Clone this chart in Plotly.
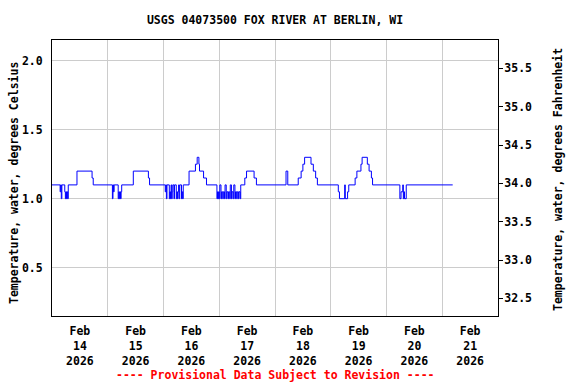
import plotly.graph_objects as go

# ---- data ----
times = [
    "2026-02-14 00:00", "2026-02-14 03:30", "2026-02-14 03:45", "2026-02-14 04:00", "2026-02-14 04:15",
    "2026-02-14 05:30", "2026-02-14 05:45", "2026-02-14 06:00", "2026-02-14 06:15", "2026-02-14 06:30",
    "2026-02-14 06:45", "2026-02-14 07:00", "2026-02-14 10:45", "2026-02-14 17:15", "2026-02-14 17:45",
    "2026-02-15 02:00", "2026-02-15 02:15", "2026-02-15 02:30", "2026-02-15 02:45",
    "2026-02-15 04:30", "2026-02-15 04:45", "2026-02-15 05:00", "2026-02-15 05:15", "2026-02-15 05:30",
    "2026-02-15 05:45", "2026-02-15 06:00", "2026-02-15 11:00", "2026-02-15 17:30", "2026-02-15 18:00",
    "2026-02-16 00:45", "2026-02-16 01:00", "2026-02-16 01:15", "2026-02-16 01:30", "2026-02-16 02:30",
    "2026-02-16 02:45", "2026-02-16 03:00", "2026-02-16 03:15", "2026-02-16 03:30", "2026-02-16 03:45",
    "2026-02-16 04:00", "2026-02-16 04:30", "2026-02-16 04:45", "2026-02-16 05:30", "2026-02-16 05:45",
    "2026-02-16 06:00", "2026-02-16 06:15", "2026-02-16 06:30", "2026-02-16 06:45", "2026-02-16 07:00",
    "2026-02-16 07:45", "2026-02-16 08:00", "2026-02-16 08:15", "2026-02-16 08:30",
    "2026-02-16 11:00", "2026-02-16 13:45", "2026-02-16 14:30", "2026-02-16 15:15", "2026-02-16 15:30",
    "2026-02-16 17:15", "2026-02-16 18:30",
    "2026-02-16 23:00", "2026-02-16 23:15", "2026-02-16 23:30", "2026-02-16 23:45",
    "2026-02-17 00:00", "2026-02-17 00:15", "2026-02-17 00:45", "2026-02-17 01:00", "2026-02-17 01:30",
    "2026-02-17 01:45", "2026-02-17 02:15", "2026-02-17 02:30", "2026-02-17 03:00", "2026-02-17 03:15",
    "2026-02-17 03:45", "2026-02-17 04:00", "2026-02-17 04:30", "2026-02-17 04:45", "2026-02-17 05:15",
    "2026-02-17 05:30", "2026-02-17 06:00", "2026-02-17 06:15", "2026-02-17 06:45", "2026-02-17 07:00",
    "2026-02-17 07:30", "2026-02-17 07:45", "2026-02-17 08:15", "2026-02-17 08:30", "2026-02-17 09:00",
    "2026-02-17 09:15",
    "2026-02-17 11:00", "2026-02-17 11:45", "2026-02-17 15:00", "2026-02-17 16:00",
    "2026-02-18 04:45", "2026-02-18 05:30",
    "2026-02-18 10:00", "2026-02-18 11:15", "2026-02-18 12:00", "2026-02-18 12:45", "2026-02-18 15:30",
    "2026-02-18 16:30", "2026-02-18 17:30", "2026-02-18 18:15",
    "2026-02-19 03:15", "2026-02-19 03:45", "2026-02-19 06:00", "2026-02-19 06:15", "2026-02-19 07:15",
    "2026-02-19 07:45", "2026-02-19 10:30", "2026-02-19 11:15", "2026-02-19 13:00", "2026-02-19 13:30",
    "2026-02-19 15:45", "2026-02-19 16:30", "2026-02-19 17:30", "2026-02-19 18:00",
    "2026-02-20 05:45", "2026-02-20 06:15", "2026-02-20 07:00", "2026-02-20 07:15", "2026-02-20 07:30",
    "2026-02-20 07:45", "2026-02-20 08:30",
    "2026-02-21 04:30",
]
temps_c = [
    1.1, 1.05, 1.1, 1.0, 1.1,
    1.05, 1.0, 1.05, 1.0, 1.05,
    1.0, 1.1, 1.2, 1.15, 1.1,
    1.0, 1.1, 1.05, 1.1,
    1.0, 1.05, 1.0, 1.05, 1.0,
    1.05, 1.1, 1.2, 1.15, 1.1,
    1.05, 1.1, 1.0, 1.1, 1.0,
    1.05, 1.0, 1.1, 1.0, 1.05,
    1.1, 1.0, 1.1, 1.0, 1.05,
    1.0, 1.05, 1.1, 1.0, 1.1,
    1.0, 1.05, 1.0, 1.1,
    1.2, 1.25, 1.3, 1.25, 1.2,
    1.15, 1.1,
    1.0, 1.05, 1.0, 1.05,
    1.0, 1.1, 1.0, 1.05, 1.0,
    1.05, 1.0, 1.1, 1.0, 1.05,
    1.0, 1.05, 1.0, 1.1, 1.0,
    1.05, 1.0, 1.1, 1.0, 1.05,
    1.0, 1.05, 1.0, 1.05, 1.0,
    1.1,
    1.15, 1.2, 1.15, 1.1,
    1.2, 1.1,
    1.15, 1.2, 1.25, 1.3, 1.25,
    1.2, 1.15, 1.1,
    1.05, 1.0, 1.1, 1.0, 1.05,
    1.1, 1.15, 1.2, 1.25, 1.3,
    1.25, 1.2, 1.15, 1.1,
    1.0, 1.05, 1.1, 1.0, 1.05,
    1.0, 1.1,
    1.1,
]
temps_f = [round(c * 1.8 + 32, 3) for c in temps_c]

day_ticks = ["2026-02-14 12:00", "2026-02-15 12:00", "2026-02-16 12:00", "2026-02-17 12:00",
             "2026-02-18 12:00", "2026-02-19 12:00", "2026-02-20 12:00", "2026-02-21 12:00"]
day_labels = ["Feb<br>14<br>2026", "Feb<br>15<br>2026", "Feb<br>16<br>2026", "Feb<br>17<br>2026",
              "Feb<br>18<br>2026", "Feb<br>19<br>2026", "Feb<br>20<br>2026", "Feb<br>21<br>2026"]
x_range = ["2026-02-14 00:00", "2026-02-22 00:00"]
c_ticks = [0.5, 1.0, 1.5, 2.0]
f_ticks = [32.5, 33.0, 33.5, 34.0, 34.5, 35.0, 35.5]
c_range = [0.15, 2.15]
f_range = [c * 1.8 + 32 for c in c_range]

FONT = "DejaVu Sans Mono"
fnt = dict(family=FONT, size=11.5, color="black", weight="bold")

fig = go.Figure()
fig.add_trace(go.Scatter(x=times, y=temps_c, mode="lines", yaxis="y",
                         line=dict(color="#0000ff", width=1, shape="hv"),
                         showlegend=False))
fig.add_trace(go.Scatter(x=times, y=temps_f, mode="lines", yaxis="y2",
                         line=dict(color="rgba(0,0,0,0)", width=0, shape="hv"),
                         showlegend=False, hoverinfo="skip"))

fig.update_layout(
    width=576, height=384,
    margin=dict(l=52, r=78, t=40, b=68),
    paper_bgcolor="white", plot_bgcolor="white",
    font=fnt,
    showlegend=False,
    title=dict(text="USGS 04073500 FOX RIVER AT BERLIN, WI", font=fnt,
               x=0.5, xref="paper", xanchor="center",
               y=1 - 20 / 384, yref="container", yanchor="middle"),
    xaxis=dict(range=x_range, type="date", tickmode="array", tickvals=day_ticks, ticktext=day_labels,
               ticks="", showgrid=False, showline=True, linecolor="black", linewidth=1, mirror=True,
               zeroline=False, tickfont=fnt, ticklabelstandoff=4,
               minor=dict(tick0="2026-02-14", dtick=86400000, showgrid=True,
                          gridcolor="#cccccc", gridwidth=1, ticks="")),
    yaxis=dict(range=c_range, tickmode="array", tickvals=c_ticks, tickformat=".1f",
               ticks="", showgrid=True, gridcolor="#cccccc", gridwidth=1,
               showline=True, linecolor="black", linewidth=1, zeroline=False,
               tickfont=fnt, ticklabelstandoff=6),
    yaxis2=dict(range=f_range, overlaying="y", side="right", tickmode="array", tickvals=f_ticks,
                tickformat=".1f", ticks="outside", ticklen=4, tickcolor="black",
                showgrid=False, showline=True, linecolor="black", linewidth=1, zeroline=False,
                tickfont=fnt, ticklabelstandoff=-1),
    annotations=[
        dict(text="Temperature, water, degrees Celsius", textangle=-90, font=fnt,
             xref="paper", yref="paper", x=(14 - 52) / 446, y=(316 - 183) / 276,
             xanchor="center", yanchor="middle", showarrow=False),
        dict(text="Temperature, water, degrees Fahrenheit", textangle=-90, font=fnt,
             xref="paper", yref="paper", x=(558 - 52) / 446, y=(316 - 180) / 276,
             xanchor="center", yanchor="middle", showarrow=False),
        dict(text="---- Provisional Data Subject to Revision ----",
             font=dict(family=FONT, size=11.5, color="#ff0000", weight="bold"),
             xref="paper", yref="paper", x=0.5, y=(316 - 375) / 276,
             xanchor="center", yanchor="middle", showarrow=False),
    ],
)

fig.write_html(
    "out.html",
    config={"displayModeBar": False},
    post_script="document.body.style.margin='0';document.body.style.overflow='hidden';",
)
